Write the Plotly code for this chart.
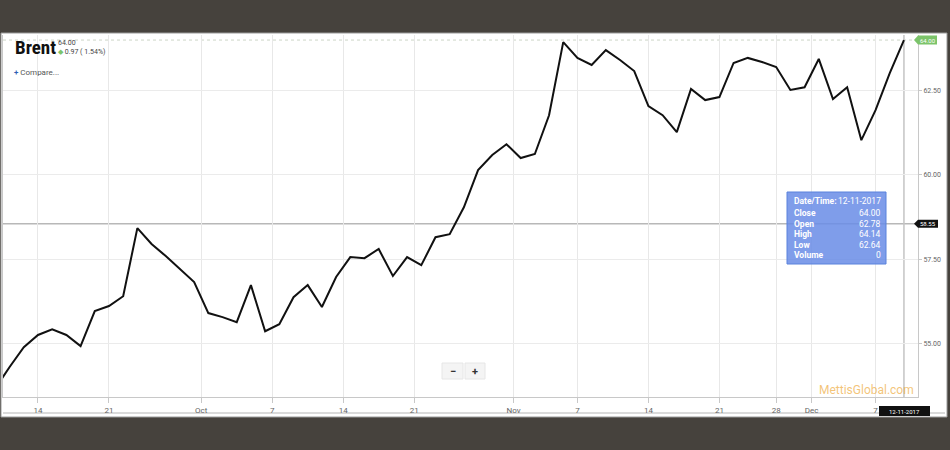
import numpy as np
import pandas as pd
import plotly.graph_objects as go

# ---------------- data ----------------
dates = [
    "2017-09-11", "2017-09-12", "2017-09-13", "2017-09-14", "2017-09-15",
    "2017-09-18", "2017-09-19", "2017-09-20", "2017-09-21", "2017-09-22",
    "2017-09-25", "2017-09-26", "2017-09-27", "2017-09-28", "2017-09-29",
    "2017-10-02", "2017-10-03", "2017-10-04", "2017-10-05", "2017-10-06",
    "2017-10-09", "2017-10-10", "2017-10-11", "2017-10-12", "2017-10-13",
    "2017-10-16", "2017-10-17", "2017-10-18", "2017-10-19", "2017-10-20",
    "2017-10-23", "2017-10-24", "2017-10-25", "2017-10-26", "2017-10-27",
    "2017-10-30", "2017-10-31", "2017-11-01", "2017-11-02", "2017-11-03",
    "2017-11-06", "2017-11-07", "2017-11-08", "2017-11-09", "2017-11-10",
    "2017-11-13", "2017-11-14", "2017-11-15", "2017-11-16", "2017-11-17",
    "2017-11-20", "2017-11-21", "2017-11-22", "2017-11-24",
    "2017-11-27", "2017-11-28", "2017-11-29", "2017-11-30", "2017-12-01",
    "2017-12-04", "2017-12-05", "2017-12-06", "2017-12-07", "2017-12-08",
    "2017-12-11",
]
close = [
    53.67, 54.30, 54.89, 55.25, 55.42,
    55.25, 54.92, 55.96, 56.11, 56.40,
    58.42, 57.95, 57.59, 57.20, 56.82,
    55.90, 55.78, 55.63, 56.73, 55.36,
    55.57, 56.37, 56.73, 56.08, 56.97,
    57.56, 57.53, 57.80, 57.00, 57.56,
    57.32, 58.15, 58.24, 59.04, 60.14,
    60.59, 60.91, 60.50, 60.62, 61.77,
    63.94, 63.47, 63.26, 63.70, 63.41,
    63.08, 62.04, 61.77, 61.27, 62.55,
    62.22, 62.31, 63.32, 63.47,
    63.35, 63.20, 62.52, 62.60, 63.44,
    62.25, 62.60, 61.03, 61.92, 63.02,
    64.00,
]
tick_dates = ["2017-09-14", "2017-09-21", "2017-10-01", "2017-10-07", "2017-10-14",
              "2017-10-21", "2017-11-01", "2017-11-07", "2017-11-14", "2017-11-21",
              "2017-11-28", "2017-12-01", "2017-12-07"]
tick_labels = ["14", "21", "Oct", "7", "14", "21", "Nov", "7", "14", "21", "28", "Dec", "7"]
y_ticks = [55, 57.5, 60, 62.5]

title = "Brent"
last_close = 64.00
change = 0.97
change_pct = 1.54
cursor_price = 58.55
cursor_date = "12-11-2017"
tooltip_labels = ["Date/Time:", "Close", "Open", "High", "Low", "Volume"]
tooltip_values = ["12-11-2017", "64.00", "62.78", "64.14", "62.64", "0"]

# ---------------- positions (ordinal axis: one slot per trading day) ----------------
d = pd.to_datetime(dates)
x = np.arange(len(dates))
tick_pos = []
for td, lab in zip(tick_dates, tick_labels):
    t = pd.Timestamp(td)
    i = int(d.searchsorted(t))
    if i < len(d) and d[i] == t and not lab.isalpha():
        tick_pos.append(i)
    else:
        tick_pos.append(i - 0.5)

W, H = 950, 450
PL, PR, PT, PB = 3, 918, 35, 397
Y0, Y1 = 53.41, 64.15


def px(v):
    return (v - PL) / (PR - PL)


def py(v):
    return (PB - v) / (PB - PT)


FONT = "Roboto, Arial, sans-serif"

fig = go.Figure()
fig.add_trace(go.Scatter(x=x, y=close, mode="lines",
                         line=dict(color="#111111", width=2),
                         hoverinfo="skip", showlegend=False, cliponaxis=True))

shapes = []
# white card
shapes.append(dict(type="rect", xref="paper", yref="paper", layer="below",
                   x0=px(1), x1=px(947), y0=py(417), y1=py(33),
                   fillcolor="white", line=dict(color="#9a9a9a", width=1)))
shapes.append(dict(type="line", xref="paper", yref="paper", layer="below",
                   x0=px(3), x1=px(945), y0=py(413), y1=py(413),
                   line=dict(color="#b5b5b5", width=1)))
# last price dotted line
shapes.append(dict(type="line", xref="paper", yref="y", x0=0, x1=1,
                   y0=last_close, y1=last_close, layer="below",
                   line=dict(color="#cdd5c6", width=1, dash="dot")))
# crosshairs
shapes.append(dict(type="line", xref="paper", yref="y", x0=0, x1=1,
                   y0=cursor_price, y1=cursor_price, layer="below",
                   line=dict(color="#b8b8b8", width=1.5)))
shapes.append(dict(type="line", xref="x", yref="paper", x0=x[-1], x1=x[-1],
                   y0=0, y1=1, layer="below",
                   line=dict(color="#c4c4c4", width=1.5)))


def tag_path(x0, x1, yc, h, tip):
    pts = [(x0 - tip, yc), (x0, yc - h / 2), (x1, yc - h / 2), (x1, yc + h / 2), (x0, yc + h / 2)]
    s = "M " + " L ".join(f"{px(a):.5f},{py(b):.5f}" for a, b in pts) + " Z"
    return s


y_last_px = PB - (last_close - Y0) / (Y1 - Y0) * (PB - PT)
y_cur_px = PB - (cursor_price - Y0) / (Y1 - Y0) * (PB - PT)

shapes.append(dict(type="path", xref="paper", yref="paper",
                   path=tag_path(918, 937, y_last_px, 9, 4),
                   fillcolor="#7cc46a", line=dict(width=0)))
shapes.append(dict(type="path", xref="paper", yref="paper",
                   path=tag_path(918, 938, y_cur_px, 8, 4),
                   fillcolor="#111111", line=dict(width=0)))
# date tag at bottom
shapes.append(dict(type="rect", xref="paper", yref="paper",
                   x0=px(879), x1=px(930), y0=py(416), y1=py(406),
                   fillcolor="#111111", line=dict(width=0)))
# tooltip box
shapes.append(dict(type="rect", xref="paper", yref="paper",
                   x0=px(787), x1=px(886), y0=py(264), y1=py(192),
                   fillcolor="rgba(105,140,230,0.85)", line=dict(color="#5b82dc", width=1)))
# zoom buttons
for bx0, bx1 in [(442, 463), (465, 485)]:
    shapes.append(dict(type="rect", xref="paper", yref="paper",
                       x0=px(bx0), x1=px(bx1), y0=py(379), y1=py(363),
                       fillcolor="#f4f4f4", line=dict(color="#e6e6e6", width=1)))

ann = []
ann.append(dict(x=px(13), y=py(48), xref="paper", yref="paper", text=f"<b>{title}</b>",
                showarrow=False, xanchor="left", yanchor="middle",
                font=dict(family="Liberation Sans Narrow, Roboto Condensed, Roboto, sans-serif",
                          size=19, color="#111111")))
ann.append(dict(x=px(56), y=py(43), xref="paper", yref="paper", text=f"{last_close:.2f}",
                showarrow=False, xanchor="left", yanchor="middle",
                font=dict(family=FONT, size=7, color="#444444")))
ann.append(dict(x=px(56), y=py(52), xref="paper", yref="paper",
                text=f"<span style='color:#7cc46a'>◆</span> {change:.2f} ( {change_pct:.2f}%)",
                showarrow=False, xanchor="left", yanchor="middle",
                font=dict(family=FONT, size=7, color="#444444")))
ann.append(dict(x=px(12), y=py(72), xref="paper", yref="paper",
                text="<span style='color:#2b5fb4'><b>+</b></span> Compare...",
                showarrow=False, xanchor="left", yanchor="middle",
                font=dict(family=FONT, size=8, color="#555555")))
# tags text
ann.append(dict(x=px(927.5), y=py(y_last_px), xref="paper", yref="paper", text=f"{last_close:.2f}",
                showarrow=False, xanchor="center", yanchor="middle",
                font=dict(family=FONT, size=6, color="white")))
ann.append(dict(x=px(928), y=py(y_cur_px), xref="paper", yref="paper", text=f"{cursor_price:.2f}",
                showarrow=False, xanchor="center", yanchor="middle",
                font=dict(family=FONT, size=6, color="white")))
ann.append(dict(x=px(904.5), y=py(411), xref="paper", yref="paper", text=cursor_date,
                showarrow=False, xanchor="center", yanchor="middle",
                font=dict(family=FONT, size=6, color="white")))
# tooltip text
row_y = [201, 212.5, 223.5, 234, 244.5, 255]
for lab, val, ry in zip(tooltip_labels, tooltip_values, row_y):
    ann.append(dict(x=px(792), y=py(ry), xref="paper", yref="paper", text=f"<b>{lab}</b>",
                    showarrow=False, xanchor="left", yanchor="middle",
                    font=dict(family=FONT, size=8.5, color="white")))
    ann.append(dict(x=px(883), y=py(ry), xref="paper", yref="paper", text=val,
                    showarrow=False, xanchor="right", yanchor="middle",
                    font=dict(family=FONT, size=8.5, color="white")))
# zoom button glyphs
ann.append(dict(x=px(452.5), y=py(371), xref="paper", yref="paper", text="<b>−</b>",
                showarrow=False, xanchor="center", yanchor="middle",
                font=dict(family=FONT, size=11, color="#333333")))
ann.append(dict(x=px(475), y=py(371), xref="paper", yref="paper", text="<b>+</b>",
                showarrow=False, xanchor="center", yanchor="middle",
                font=dict(family=FONT, size=11, color="#333333")))
# watermark
ann.append(dict(x=px(866), y=py(390), xref="paper", yref="paper", text="MettisGlobal.com",
                showarrow=False, xanchor="center", yanchor="middle",
                font=dict(family=FONT, size=12, color="rgba(238,170,60,0.7)")))

fig.update_layout(
    width=W, height=H,
    margin=dict(l=PL, r=W - PR, t=PT, b=H - PB, pad=0),
    paper_bgcolor="#46423d",
    plot_bgcolor="white",
    shapes=shapes,
    annotations=ann,
    showlegend=False,
    hovermode=False,
    xaxis=dict(range=[0.535, 64.99], tickmode="array", tickvals=tick_pos, ticktext=tick_labels,
               showgrid=True, gridcolor="#e8e8e8", gridwidth=1, zeroline=False,
               showline=True, linecolor="#c8c8c8", linewidth=1,
               ticks="outside", ticklen=5, tickcolor="#c8c8c8",
               tickfont=dict(family=FONT, size=8, color="#666666")),
    yaxis=dict(range=[Y0, Y1], side="right", tickmode="array", tickvals=y_ticks,
               ticktext=[f"{v:.2f}" for v in y_ticks],
               showgrid=True, gridcolor="#ebebeb", gridwidth=1, zeroline=False,
               showline=True, mirror=True, linecolor="#c8c8c8", linewidth=1,
               ticks="outside", ticklen=3, tickcolor="#c8c8c8",
               tickfont=dict(family=FONT, size=7, color="#666666")),
)

fig.write_html("out.html", config={"displayModeBar": False},
               post_script="document.body.style.margin='0';document.body.style.overflow='hidden';")
